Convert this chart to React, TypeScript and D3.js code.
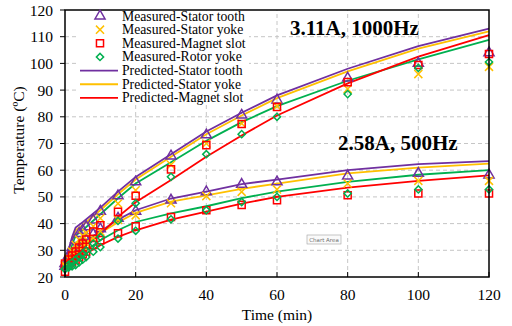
import React, { useEffect, useRef } from "react";
import * as d3 from "d3";

// measured sample times (min)
const times = [0, 1, 2, 3, 4, 5, 6, 8, 10, 15, 20, 30, 40, 50, 60, 80, 100, 120];
// predicted curve times (min)
const predTimes = [0, 1, 2, 3, 5, 10, 15, 20, 30, 40, 50, 60, 80, 100, 120];

// 3.11A, 1000Hz - measured
const hiToothMeas = [25, 28, 31, 34, 36.3, 37.5, 38.8, 41.3, 44.6, 50.4, 55.6, 65.3, 73.2, 80.6, 86.3, 94.5, 100, 104];
const hiYokeMeas = [24.5, 27, 29.5, 32, 34, 35.5, 36.5, 39, 42, 47.5, 52.5, 62, 70, 77.5, 84, 90.4, 96, 98.7];
const hiMagnetMeas = [25, 26.5, 28, 29.5, 31, 32.5, 34, 37, 39.4, 44.4, 50.4, 60.3, 69.4, 77.3, 83.7, 93, 99.4, 103.5];
const hiRotorMeas = [23, 24.5, 25.5, 26.5, 27.5, 28.5, 30, 32.5, 35, 41, 47.6, 57.5, 66, 73.5, 80, 88.5, 98.3, 100.5];

// 2.58A, 500Hz - measured
const loToothMeas = [24, 26, 28, 30, 31.5, 33, 34, 36, 38, 42, 44.6, 48.8, 51.9, 54.7, 55.6, 57.8, 58.8, 58.2];
const loYokeMeas = [24, 25.5, 27, 28.5, 30, 31.5, 32.5, 34.5, 37, 41.4, 43.1, 47.6, 50.3, 51.9, 52.8, 55, 56, 56];
const loMagnetMeas = [22, 24.5, 25.5, 26.5, 27.5, 28.5, 29.5, 32, 33.8, 36.4, 39, 42.5, 45, 47, 48.8, 50.6, 51.3, 51.3];
const loRotorMeas = [23, 23.5, 24, 24.5, 25.5, 26.5, 27.5, 29.5, 31.2, 34.4, 37.3, 41.6, 45, 48.1, 50, 51.3, 52.8, 52.8];

// predicted
const hiToothPred = [25, 30, 35, 38.5, 40.5, 46, 52, 57.5, 66, 74.5, 81.5, 88, 98, 106.5, 113];
const hiYokePred = [25, 29.5, 34, 37.5, 39.5, 45, 51, 56.5, 65, 73.5, 80.5, 87, 97, 105.5, 112];
const hiRotorPred = [24, 28, 32, 35.5, 37.5, 43.5, 49.5, 55, 63, 71, 78, 84, 93.5, 101.5, 108.8];
const hiMagnetPred = [25, 26.5, 28, 29.5, 31, 36, 42.5, 48, 56.3, 65, 73, 80.5, 92.5, 102.5, 110.6];
const loToothPred = [25, 27, 29, 31, 33, 37, 41.5, 45, 49.4, 52, 54.8, 56.5, 60, 62.3, 63.4];
const loYokePred = [25, 26.5, 28.5, 30.5, 32.5, 36.5, 40.5, 44, 48.2, 50.6, 53, 55, 58.8, 61, 62.5];
const loRotorPred = [24, 25, 26, 27, 29, 33.8, 37.5, 40.6, 43.8, 46.5, 49.5, 52, 55.6, 58.3, 60];
const loMagnetPred = [24.4, 25, 25.8, 26.5, 28, 31.9, 35, 37.5, 41.5, 44.5, 47.5, 50, 53.5, 56, 58.1];

const xTicks = [0, 20, 40, 60, 80, 100, 120];
const yTicks = [20, 30, 40, 50, 60, 70, 80, 90, 100, 110, 120];

const PURPLE = "#7030A0";
const YELLOW = "#FFC000";
const RED = "#FF0000";
const GREEN = "#00B050";

const App = () => {
  const ref = useRef(null);

  useEffect(() => {
    const width = 512;
    const height = 326;
    const svg = d3.select(ref.current);
    svg.selectAll("*").remove();
    svg.attr("width", width).attr("height", height);

    const font = "'Liberation Serif', 'Times New Roman', serif";
    const x = d3.scaleLinear().domain([0, 120]).range([65, 489]);
    const y = d3.scaleLinear().domain([20, 120]).range([277, 10]);

    svg.append("rect").attr("width", width).attr("height", height).attr("fill", "white");

    // grid
    svg
      .selectAll("line.hgrid")
      .data(yTicks.slice(1, -1))
      .enter()
      .append("line")
      .attr("x1", x(0))
      .attr("x2", x(120))
      .attr("y1", (d) => y(d))
      .attr("y2", (d) => y(d))
      .attr("stroke", "#c0c0c0")
      .attr("stroke-width", 0.9)
      .attr("stroke-dasharray", "4,3");
    svg
      .selectAll("line.vgrid")
      .data(xTicks.slice(1, -1))
      .enter()
      .append("line")
      .attr("x1", (d) => x(d))
      .attr("x2", (d) => x(d))
      .attr("y1", y(20))
      .attr("y2", y(120))
      .attr("stroke", "#c0c0c0")
      .attr("stroke-width", 0.9)
      .attr("stroke-dasharray", "4,3");

    // legend background hides the grid behind it
    svg.append("rect").attr("x", 77).attr("y", 11).attr("width", 172).attr("height", 93).attr("fill", "white");

    // predicted lines
    const line = d3
      .line()
      .x((d) => x(d[0]))
      .y((d) => y(d[1]));
    const preds = [
      [loRotorPred, GREEN],
      [loMagnetPred, RED],
      [loYokePred, YELLOW],
      [loToothPred, PURPLE],
      [hiRotorPred, GREEN],
      [hiMagnetPred, RED],
      [hiYokePred, YELLOW],
      [hiToothPred, PURPLE],
    ];
    preds.forEach(([vals, color]) => {
      svg
        .append("path")
        .datum(predTimes.map((t, i) => [t, vals[i]]))
        .attr("d", line)
        .attr("fill", "none")
        .attr("stroke", color)
        .attr("stroke-width", 1.8);
    });

    // marker shapes
    const shapes = {
      tri: d3.symbol(d3.symbolTriangle, 44)(),
      x: d3.symbol(d3.symbolX, 44)(),
      sq: d3.symbol(d3.symbolSquare, 50)(),
      dia: d3.symbol(d3.symbolSquare, 26)(),
    };
    const drawMarker = (g, kind, color, cx, cy) => {
      g.append("path")
        .attr("d", shapes[kind])
        .attr("transform", `translate(${cx},${cy})${kind === "dia" ? " rotate(45)" : ""}`)
        .attr("fill", "none")
        .attr("stroke", color)
        .attr("stroke-width", 1.5);
    };

    const meas = [
      [hiToothMeas, "tri", PURPLE],
      [loToothMeas, "tri", PURPLE],
      [hiYokeMeas, "x", YELLOW],
      [loYokeMeas, "x", YELLOW],
      [hiMagnetMeas, "sq", RED],
      [loMagnetMeas, "sq", RED],
      [hiRotorMeas, "dia", GREEN],
      [loRotorMeas, "dia", GREEN],
    ];
    const mg = svg.append("g");
    meas.forEach(([vals, kind, color]) => {
      times.forEach((t, i) => drawMarker(mg, kind, color, x(t), y(vals[i])));
    });

    // frame
    svg
      .append("rect")
      .attr("x", x(0))
      .attr("y", y(120))
      .attr("width", x(120) - x(0))
      .attr("height", y(20) - y(120))
      .attr("fill", "none")
      .attr("stroke", "black")
      .attr("stroke-width", 1.5);

    // ticks
    svg
      .selectAll("line.xt")
      .data(xTicks)
      .enter()
      .append("line")
      .attr("x1", (d) => x(d))
      .attr("x2", (d) => x(d))
      .attr("y1", y(20))
      .attr("y2", y(20) - 5)
      .attr("stroke", "black");
    svg
      .selectAll("line.yt")
      .data(yTicks)
      .enter()
      .append("line")
      .attr("x1", x(0) - 5)
      .attr("x2", x(0))
      .attr("y1", (d) => y(d))
      .attr("y2", (d) => y(d))
      .attr("stroke", "black");

    // tick labels
    svg
      .selectAll("text.xl")
      .data(xTicks)
      .enter()
      .append("text")
      .attr("x", (d) => x(d))
      .attr("y", 300)
      .attr("text-anchor", "middle")
      .style("font-family", font)
      .style("font-size", "15.5px")
      .text((d) => d);
    svg
      .selectAll("text.yl")
      .data(yTicks)
      .enter()
      .append("text")
      .attr("x", 53)
      .attr("y", (d) => y(d) + 5.5)
      .attr("text-anchor", "end")
      .style("font-family", font)
      .style("font-size", "15.5px")
      .text((d) => d);

    // axis titles
    svg
      .append("text")
      .attr("x", 277)
      .attr("y", 320)
      .attr("text-anchor", "middle")
      .style("font-family", font)
      .style("font-size", "15.5px")
      .text("Time (min)");
    svg
      .append("text")
      .attr("transform", "translate(24,140) rotate(-90)")
      .attr("text-anchor", "middle")
      .style("font-family", font)
      .style("font-size", "15.5px")
      .text("Temperature (ºC)");

    // annotations
    svg
      .append("text")
      .attr("x", 290)
      .attr("y", 35)
      .style("font-family", font)
      .style("font-size", "21px")
      .style("font-weight", "bold")
      .text("3.11A, 1000Hz");
    svg
      .append("text")
      .attr("x", 338)
      .attr("y", 150)
      .style("font-family", font)
      .style("font-size", "21px")
      .style("font-weight", "bold")
      .text("2.58A, 500Hz");

    // legend
    const legend = [
      { label: "Measured-Stator tooth", kind: "tri", color: PURPLE },
      { label: "Measured-Stator yoke", kind: "x", color: YELLOW },
      { label: "Measured-Magnet slot", kind: "sq", color: RED },
      { label: "Measured-Rotor yoke", kind: "dia", color: GREEN },
      { label: "Predicted-Stator tooth", kind: "line", color: PURPLE },
      { label: "Predicted-Stator yoke", kind: "line", color: YELLOW },
      { label: "Predicted-Magnet slot", kind: "line", color: RED },
    ];
    const lg = svg.append("g");
    legend.forEach((d, i) => {
      const ly = 16 + i * 13.65;
      if (d.kind === "line") {
        lg.append("line")
          .attr("x1", 80)
          .attr("x2", 118)
          .attr("y1", ly)
          .attr("y2", ly)
          .attr("stroke", d.color)
          .attr("stroke-width", 1.8);
      } else {
        drawMarker(lg, d.kind, d.color, 100, ly);
      }
      lg.append("text")
        .attr("x", 122)
        .attr("y", ly + 4.5)
        .style("font-family", font)
        .style("font-size", "13.7px")
        .text(d.label);
    });

    // leftover "Chart Area" hover tip from the screenshot
    svg
      .append("rect")
      .attr("x", 307)
      .attr("y", 235)
      .attr("width", 34)
      .attr("height", 9)
      .attr("fill", "#fafafa")
      .attr("stroke", "#a0a0a0")
      .attr("stroke-width", 0.6);
    svg
      .append("text")
      .attr("x", 324)
      .attr("y", 242)
      .attr("text-anchor", "middle")
      .style("font-family", "'DejaVu Sans', sans-serif")
      .style("font-size", "5.5px")
      .style("fill", "#707070")
      .text("Chart Area");
  }, []);

  return <svg ref={ref} width={512} height={326} style={{ position: "absolute", left: 0, top: 0 }}></svg>;
};

export default App;
